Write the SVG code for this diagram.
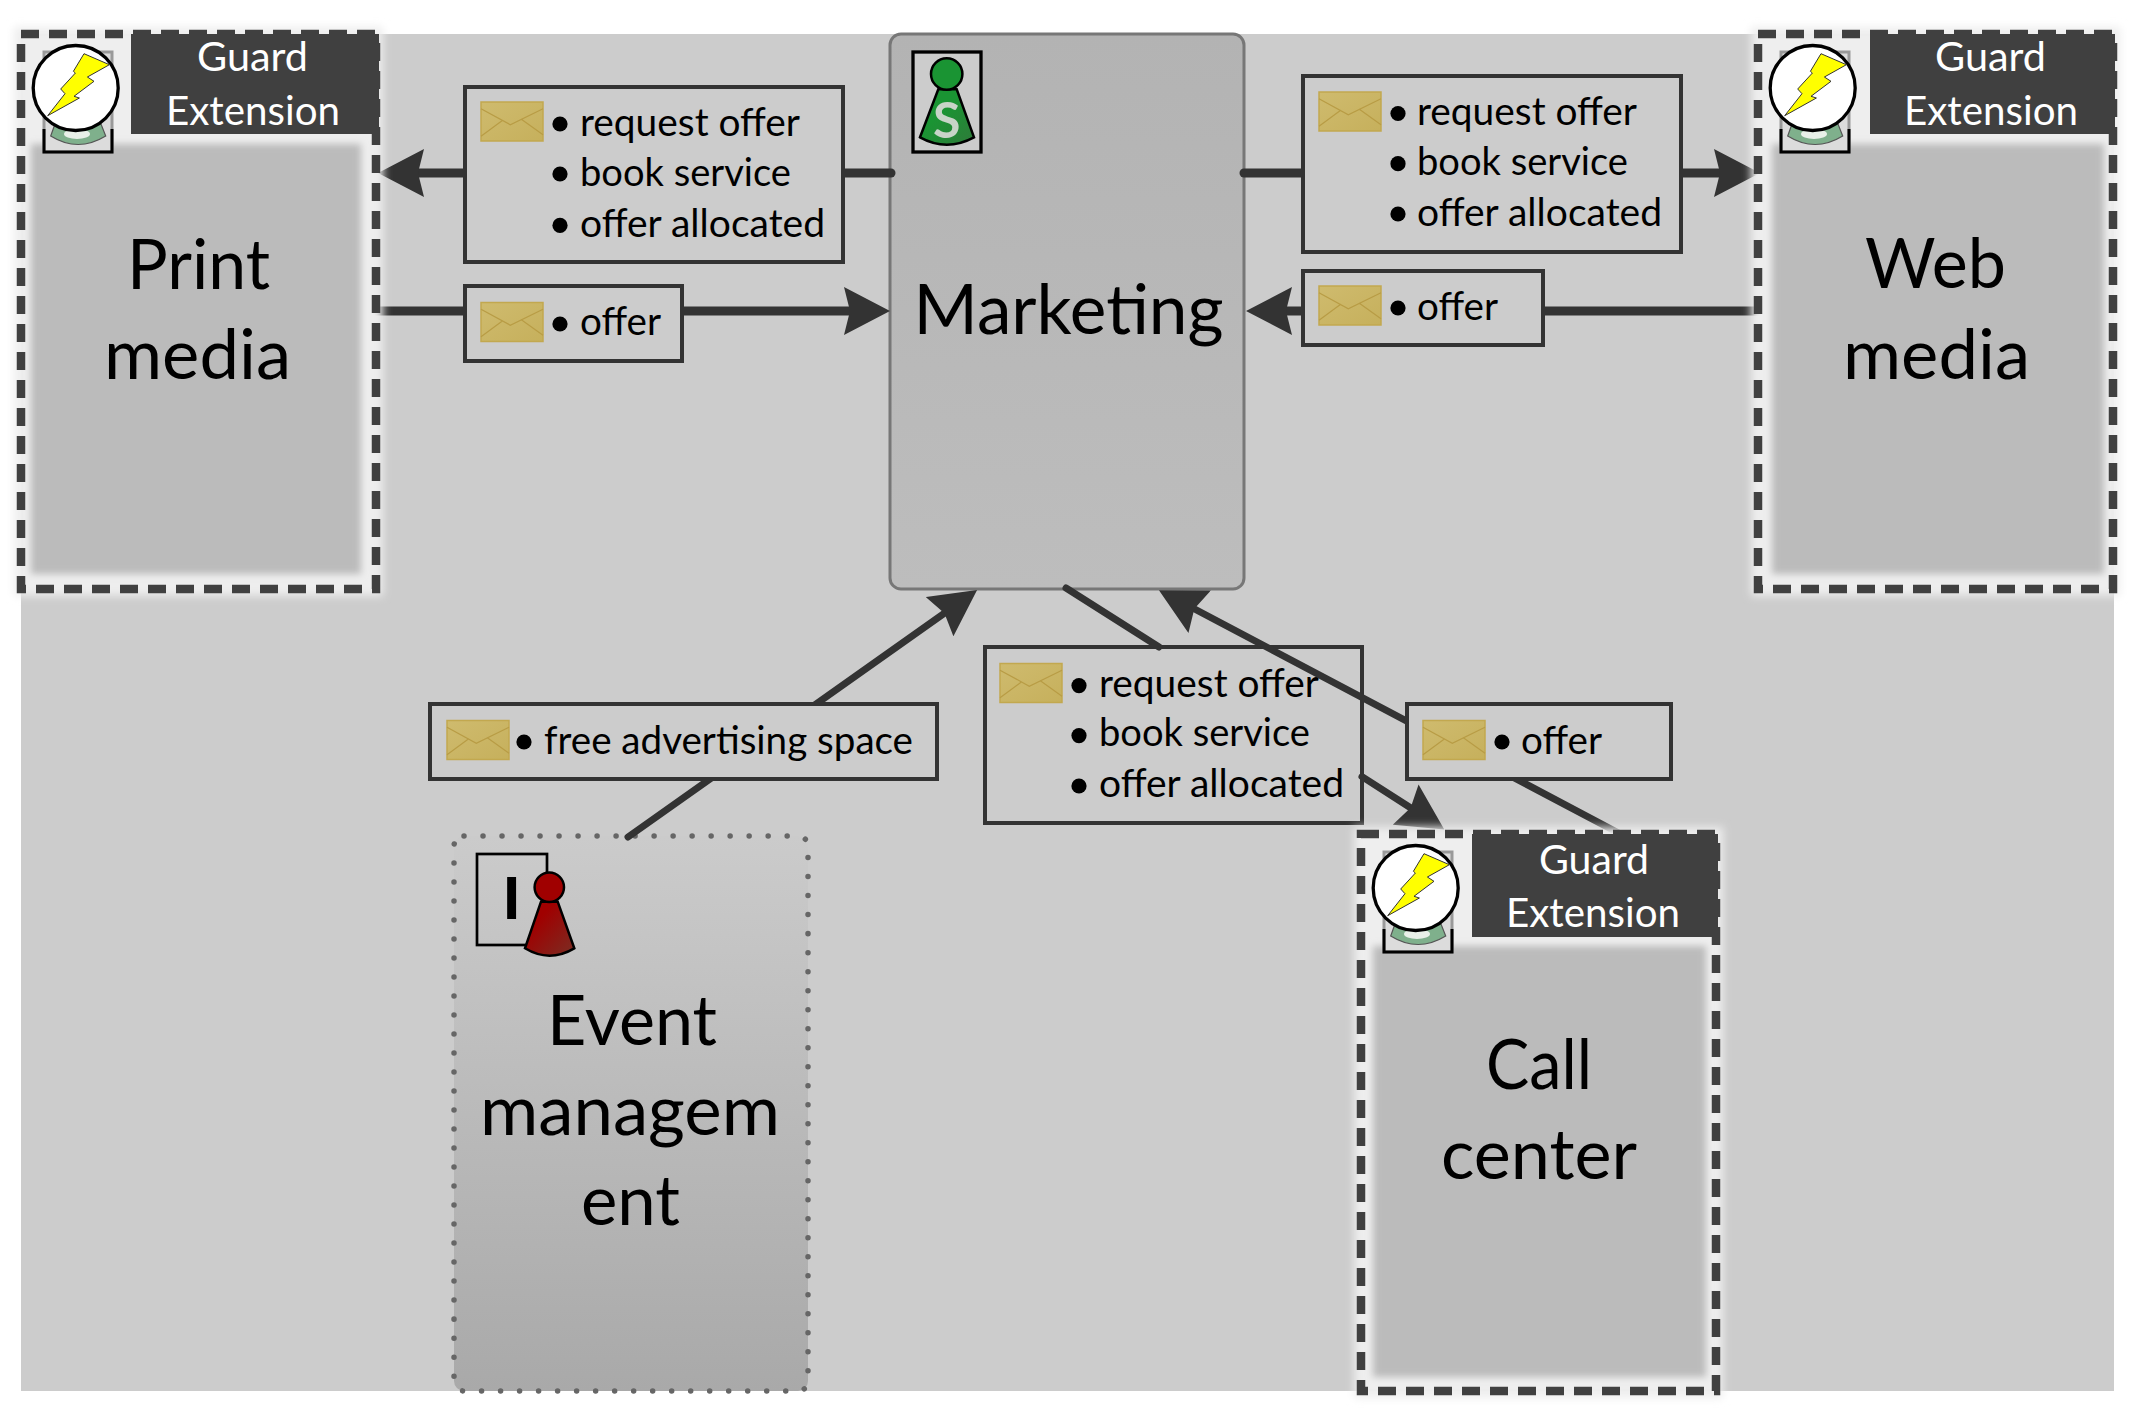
<svg xmlns="http://www.w3.org/2000/svg" xmlns:xlink="http://www.w3.org/1999/xlink" width="2134" height="1413" viewBox="0 0 2134 1413">
<style>
text{font-family:"Lato","Carlito","Noto Sans",sans-serif;fill:#000}
.big{font-size:69px}
.lbl{font-size:39px}
.grd{font-size:41px;fill:#fff}
.rim{fill:none;stroke:#404040;stroke-width:8.5;stroke-dasharray:18 10}
.hdr{fill:#404040}
.core{fill:#bbb;filter:url(#b3)}
.halo{fill:#eeeeee;filter:url(#b4)}
.box{fill:#ccc;stroke:#333;stroke-width:4}
.bul{fill:#000}
.con{fill:none;stroke:#333;stroke-linecap:round}
.h{stroke-width:9}
.d{stroke-width:7}
.head{marker-end:url(#ah)}
</style>
<defs>
<filter id="b3" x="-10%" y="-10%" width="120%" height="120%"><feGaussianBlur stdDeviation="3.5"/></filter>
<filter id="b4" x="-10%" y="-10%" width="120%" height="120%"><feGaussianBlur stdDeviation="4"/></filter>
<linearGradient id="gM" x1="0" y1="0" x2="0" y2="1"><stop offset="0" stop-color="#b3b3b3"/><stop offset="1" stop-color="#bdbdbd"/></linearGradient>
<linearGradient id="gE" x1="0" y1="0" x2="0" y2="1"><stop offset="0" stop-color="#cbcbcb"/><stop offset="1" stop-color="#a9a9a9"/></linearGradient>
<linearGradient id="gR" x1="0" y1="0" x2="1" y2="1"><stop offset="0.3" stop-color="#a00000"/><stop offset="1" stop-color="#7a2e24"/></linearGradient>
<linearGradient id="gG" x1="0" y1="0" x2="1" y2="1"><stop offset="0.4" stop-color="#1a9433"/><stop offset="1" stop-color="#2f7a3a"/></linearGradient>
<linearGradient id="gEnv" x1="0" y1="0" x2="1" y2="1"><stop offset="0" stop-color="#cfbb6e"/><stop offset="1" stop-color="#c6b05c"/></linearGradient>
<marker id="ah" markerUnits="userSpaceOnUse" markerWidth="46" markerHeight="48" viewBox="0 0 46 48" refX="10" refY="24" orient="auto"><path d="M0,0 L46,24 L0,48 L6,24 Z" fill="#333"/></marker>
<g id="env">
<rect x="0" y="0" width="62" height="39" fill="url(#gEnv)" stroke="#c2a84f" stroke-width="1.5"/>
<path d="M0,6.7 L29.3,22.7 L62,6.7 M21.7,18.3 L0,34.3 M40,17 L62,32.7" fill="none" stroke="#b89c45" stroke-width="1.2"/>
</g>
<g id="gicon">
<rect x="23" y="18" width="68" height="100" fill="#dcdcdc" stroke="#999" stroke-width="3"/>
<path d="M23,95 V118 H91 V95" fill="none" stroke="#000" stroke-width="3"/>
<path d="M34,90 L29.7,102 Q57,119 84.7,102 L80,90 Z" fill="#7fb08c" stroke="#555" stroke-width="1.2"/>
<ellipse cx="56" cy="100" rx="13" ry="5" fill="#e8f0e8"/>
<circle cx="54.7" cy="54" r="42.5" fill="#fff" stroke="#000" stroke-width="3.3"/>
<path transform="translate(54.7 54)" d="M8.3,-34.3 L33.7,-23.3 L11.7,-11 L18.3,-6.7 L-1.7,8.3 L3.7,10 L-28,27.7 L-10.7,5.7 L-15,1 L-0.3,-15 L-2.3,-16.7 Z" fill="#ff0" stroke="#333" stroke-width="1"/>
</g>
</defs>

<rect id="background" x="21" y="34" width="2093" height="1357" fill="#ccc"/>

<g id="node-marketing">
<rect x="890" y="34" width="354" height="555" rx="11" fill="url(#gM)" stroke="#777" stroke-width="3"/>
<rect x="913" y="52" width="68" height="100" fill="#ccc" stroke="#000" stroke-width="3.3"/>
<path d="M938.3,89.3 L956.7,89.3 L974,137.3 Q946.7,152 920,137.3 Z" fill="url(#gG)" stroke="#000" stroke-width="2.5"/>
<circle cx="946.7" cy="74" r="15.7" fill="#1a9433" stroke="#000" stroke-width="2.5"/>
<text x="946.7" y="138" text-anchor="middle" font-size="50" font-weight="700" style="fill:#c8d4c8">S</text>
<text class="big" x="913.6" y="334" textLength="310" lengthAdjust="spacingAndGlyphs">Marketing</text>
</g>

<g id="node-event">
<rect x="454" y="836" width="354" height="555" rx="10" fill="url(#gE)" stroke="#666" stroke-width="5.5" stroke-linecap="round" stroke-dasharray="0.01 19"/>
<rect x="477" y="854" width="70" height="91" fill="none" stroke="#000" stroke-width="2.7"/>
<text x="511.5" y="919" text-anchor="middle" font-size="62" font-weight="700" style="font-family:'Liberation Sans',sans-serif">I</text>
<path d="M541,901.7 L557.7,901.7 L574.3,948.3 Q549.3,963 525,948.3 Z" fill="url(#gR)" stroke="#000" stroke-width="2.5"/>
<circle cx="549.3" cy="887.3" r="14.7" fill="#a00000" stroke="#000" stroke-width="2.5"/>
<text class="big" x="547" y="1045" textLength="170" lengthAdjust="spacingAndGlyphs">Event</text>
<text class="big" x="480" y="1134.5" textLength="300" lengthAdjust="spacingAndGlyphs">managem</text>
<text class="big" x="581" y="1225" textLength="99" lengthAdjust="spacingAndGlyphs">ent</text>
</g>

<g id="label-middle">
<rect class="box" x="985" y="647" width="377" height="176"/>
<use href="#env" x="1000" y="663.5"/>
<circle class="bul" cx="1079" cy="685.6" r="7.6"/><circle class="bul" cx="1079" cy="735.6" r="7.6"/><circle class="bul" cx="1079" cy="786" r="7.6"/>
<text class="lbl" x="1099" y="697" textLength="220" lengthAdjust="spacingAndGlyphs">request offer</text>
<text class="lbl" x="1099" y="746" textLength="211" lengthAdjust="spacingAndGlyphs">book service</text>
<text class="lbl" x="1099" y="797" textLength="245" lengthAdjust="spacingAndGlyphs">offer allocated</text>
</g>

<g id="connectors">
<line class="con h head" x1="891" y1="173" x2="414" y2="173"/>
<line class="con h head" x1="376" y1="311" x2="854" y2="311"/>
<line class="con h head" x1="1244" y1="173" x2="1724" y2="173"/>
<line class="con h head" x1="1762" y1="311" x2="1282" y2="311"/>
<line class="con d head" x1="628" y1="837" x2="947.7" y2="610.9"/>
<line class="con d" x1="1066" y1="588" x2="1159" y2="647"/>
<line class="con d head" x1="1362" y1="776.6" x2="1414" y2="810"/>
<line class="con d head" x1="1628" y1="838" x2="1190.8" y2="607"/>
</g>

<g id="label-print-out">
<rect class="box" x="465" y="87" width="378" height="175"/>
<use href="#env" x="481" y="102"/>
<circle class="bul" cx="560" cy="124" r="7.6"/><circle class="bul" cx="560" cy="174" r="7.6"/><circle class="bul" cx="560" cy="225.4" r="7.6"/>
<text class="lbl" x="580" y="135.6" textLength="220" lengthAdjust="spacingAndGlyphs">request offer</text>
<text class="lbl" x="580" y="186" textLength="211" lengthAdjust="spacingAndGlyphs">book service</text>
<text class="lbl" x="580" y="236.5" textLength="245" lengthAdjust="spacingAndGlyphs">offer allocated</text>
</g>
<g id="label-print-in">
<rect class="box" x="465" y="286" width="217" height="75"/>
<use href="#env" x="481" y="302.5"/>
<circle class="bul" cx="560" cy="324" r="7.6"/>
<text class="lbl" x="580" y="335" textLength="81" lengthAdjust="spacingAndGlyphs">offer</text>
</g>
<g id="label-web-out">
<rect class="box" x="1303" y="76" width="378" height="176"/>
<use href="#env" x="1319" y="92"/>
<circle class="bul" cx="1398" cy="113.5" r="7.6"/><circle class="bul" cx="1398" cy="163.7" r="7.6"/><circle class="bul" cx="1398" cy="214" r="7.6"/>
<text class="lbl" x="1417" y="124.5" textLength="220" lengthAdjust="spacingAndGlyphs">request offer</text>
<text class="lbl" x="1417" y="175" textLength="211" lengthAdjust="spacingAndGlyphs">book service</text>
<text class="lbl" x="1417" y="225.8" textLength="245" lengthAdjust="spacingAndGlyphs">offer allocated</text>
</g>
<g id="label-web-in">
<rect class="box" x="1303" y="271" width="240" height="74"/>
<use href="#env" x="1319" y="286"/>
<circle class="bul" cx="1398" cy="308" r="7.6"/>
<text class="lbl" x="1417" y="319.5" textLength="81" lengthAdjust="spacingAndGlyphs">offer</text>
</g>
<g id="label-event">
<rect class="box" x="430" y="704" width="507" height="75"/>
<use href="#env" x="447" y="720.5"/>
<circle class="bul" cx="524" cy="742" r="7.6"/>
<text class="lbl" x="544" y="754" textLength="369" lengthAdjust="spacingAndGlyphs">free advertising space</text>
</g>
<g id="label-call">
<rect class="box" x="1407" y="704" width="264" height="75"/>
<use href="#env" x="1423" y="720.5"/>
<circle class="bul" cx="1502" cy="742" r="7.6"/>
<text class="lbl" x="1521" y="754" textLength="81" lengthAdjust="spacingAndGlyphs">offer</text>
</g>

<g id="node-print">
<rect class="halo" x="14" y="27" width="369" height="569"/>
<rect class="core" x="31" y="144" width="330" height="430"/>
<use href="#gicon" x="21" y="34"/>
<rect class="hdr" x="131" y="34" width="248" height="100"/>
<rect class="rim" x="21" y="34" width="355" height="555"/>
<text class="grd" x="197" y="71" textLength="111" lengthAdjust="spacingAndGlyphs">Guard</text>
<text class="grd" x="166" y="124.5" textLength="174" lengthAdjust="spacingAndGlyphs">Extension</text>
<text class="big" x="127" y="288.6" textLength="143" lengthAdjust="spacingAndGlyphs">Print</text>
<text class="big" x="104" y="379" textLength="187" lengthAdjust="spacingAndGlyphs">media</text>
</g>

<g id="node-web">
<rect class="halo" x="1751" y="27" width="369" height="569"/>
<rect class="core" x="1772" y="144" width="332" height="430"/>
<use href="#gicon" x="1758" y="34"/>
<rect class="hdr" x="1870" y="34" width="245" height="100"/>
<rect class="rim" x="1758" y="34" width="355" height="555"/>
<text class="grd" x="1935" y="71" textLength="111" lengthAdjust="spacingAndGlyphs">Guard</text>
<text class="grd" x="1904" y="124.5" textLength="174" lengthAdjust="spacingAndGlyphs">Extension</text>
<text class="big" x="1865" y="288" textLength="141" lengthAdjust="spacingAndGlyphs">Web</text>
<text class="big" x="1843" y="379" textLength="187" lengthAdjust="spacingAndGlyphs">media</text>
</g>

<g id="node-call">
<rect class="halo" x="1354" y="827" width="369" height="571"/>
<rect class="core" x="1373" y="946" width="333" height="431"/>
<use href="#gicon" x="1361" y="834"/>
<rect class="hdr" x="1472" y="834" width="246" height="103"/>
<rect class="rim" x="1361" y="834" width="355" height="557"/>
<text class="grd" x="1539" y="874" textLength="110" lengthAdjust="spacingAndGlyphs">Guard</text>
<text class="grd" x="1506" y="926.5" textLength="174" lengthAdjust="spacingAndGlyphs">Extension</text>
<text class="big" x="1486" y="1089" textLength="106" lengthAdjust="spacingAndGlyphs">Call</text>
<text class="big" x="1441" y="1179" textLength="196" lengthAdjust="spacingAndGlyphs">center</text>
</g>
</svg>
